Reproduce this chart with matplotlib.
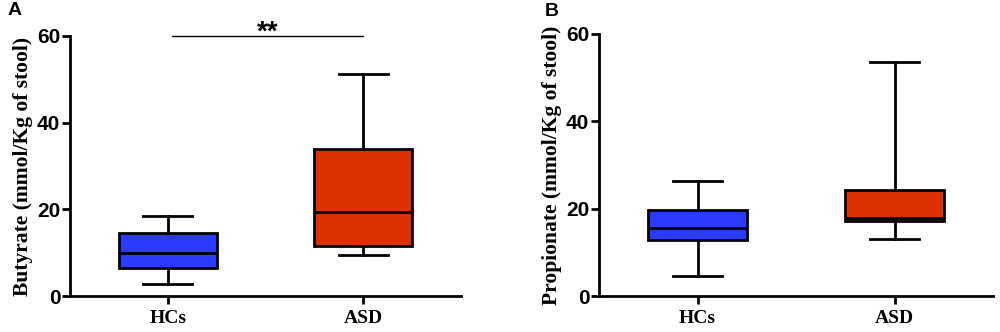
import numpy as np
from matplotlib import pyplot as plt

#データ
groups = ["HCs", "ASD"]
colors = ["#2A3BFF", "#DD3000"]

butyrate_min = [2.8, 9.4]
butyrate_q1 = [6.6, 11.5]
butyrate_med = [9.9, 19.3]
butyrate_q3 = [14.5, 34.0]
butyrate_max = [18.5, 51.1]

propionate_min = [4.6, 13.1]
propionate_q1 = [12.8, 17.1]
propionate_med = [15.5, 17.9]
propionate_q3 = [19.6, 24.2]
propionate_max = [26.4, 53.6]

yticks = [0, 20, 40, 60]

SERIF = ["Liberation Serif", "DejaVu Serif"]
SANS = ["Liberation Sans", "DejaVu Sans"]


def make_stats(lo, q1, med, q3, hi):
    stats = []
    for i in range(len(groups)):
        stats.append(dict(label=groups[i], whislo=lo[i], q1=q1[i], med=med[i],
                          q3=q3[i], whishi=hi[i], fliers=[]))
    return stats


def draw_panel(ax, stats, ylabel):
    lw = 2.0
    bp = ax.bxp(stats, positions=range(len(groups)), widths=0.5, patch_artist=True,
                showfliers=False,
                boxprops=dict(linewidth=lw, edgecolor="black"),
                medianprops=dict(color="black", linewidth=lw),
                whiskerprops=dict(color="black", linewidth=lw),
                capprops=dict(color="black", linewidth=lw),
                capwidths=0.25)
    for patch, c in zip(bp["boxes"], colors):
        patch.set_facecolor(c)
    ax.set_xlim(-0.5, 1.5)
    ax.set_ylim(0, 60)
    ax.set_yticks(yticks)
    ax.set_yticklabels([str(t) for t in yticks], fontfamily=SANS, fontweight="bold", fontsize=15)
    ax.set_xticks(range(len(groups)))
    ax.set_xticklabels(groups, fontfamily=SERIF, fontweight="bold", fontsize=14)
    ax.set_ylabel(ylabel, fontfamily=SERIF, fontweight="bold", fontsize=15.5, labelpad=3)
    for s in ["top", "right"]:
        ax.spines[s].set_visible(False)
    for s in ["left", "bottom"]:
        ax.spines[s].set_linewidth(2.0)
    ax.tick_params(axis="y", width=2.0, length=6, direction="out", pad=1)
    ax.tick_params(axis="x", width=2.0, length=6, direction="out", pad=4)


fig = plt.figure(figsize=(10, 3.32), dpi=100)
axA = fig.add_axes([0.070, 0.108, 0.391, 0.784])
axB = fig.add_axes([0.599, 0.108, 0.394, 0.790])

draw_panel(axA, make_stats(butyrate_min, butyrate_q1, butyrate_med, butyrate_q3, butyrate_max),
           "Butyrate (mmol/Kg of stool)")
draw_panel(axB, make_stats(propionate_min, propionate_q1, propionate_med, propionate_q3, propionate_max),
           "Propionate (mmol/Kg of stool)")

#有意差の線
axA.plot([0.02, 1.0], [60, 60], color="black", linewidth=1.0, clip_on=False)
axA.text(0.51, 57.8, "**", ha="center", va="bottom", fontsize=20, fontweight="bold",
         fontfamily=SANS)

fig.text(0.008, 0.995, "A", fontsize=14, fontweight="bold", fontfamily=SANS, va="top")
fig.text(0.545, 0.99, "B", fontsize=14, fontweight="bold", fontfamily=SANS, va="top")

fig.savefig("out.png", dpi=100)
